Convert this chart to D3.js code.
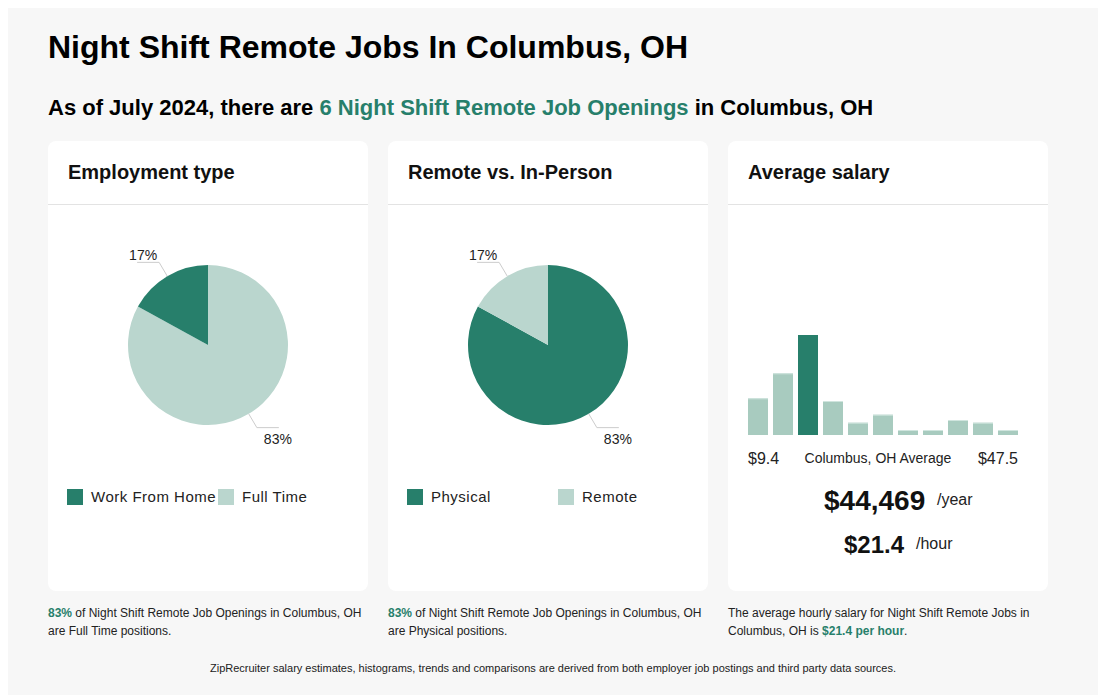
<!DOCTYPE html>
<html><head><meta charset="utf-8">
<script src="https://cdn.jsdelivr.net/npm/d3@7"></script>
<style>
html,body{margin:0;padding:0;background:#fff;}
svg{display:block;font-family:"Liberation Sans",Arial,sans-serif;}
</style></head>
<body><svg id="c" width="1110" height="695"></svg>
<script>
const title = "Night Shift Remote Jobs In Columbus, OH";
const employmentLabels = ["Full Time", "Work From Home"];
const employmentValues = [83, 17];
const remoteLabels = ["Physical", "Remote"];
const remoteValues = [83, 17];
const salaryBins = [36.7, 61.7, 100, 34, 12.3, 20.3, 5, 5, 15, 12.3, 5];
const highlightBin = 2;
const salaryMin = "$9.4", salaryMax = "$47.5";
const yearly = "$44,469", hourly = "$21.4";

const DARK = "#277f6b", LIGHT = "#bad6ce", BAR = "#a8cbbf";
const svg = d3.select("#c");
svg.append("rect").attr("x",8).attr("y",8).attr("width",1090).attr("height",687).attr("fill","#f7f7f7");
svg.append("text").attr("x",48).attr("y",58).attr("font-size",32).attr("font-weight","bold").attr("fill","#000").text(title);
const sub = svg.append("text").attr("x",48).attr("y",115).attr("font-size",22).attr("font-weight","bold").attr("fill","#000");
sub.append("tspan").text("As of July 2024, there are ");
sub.append("tspan").attr("fill",DARK).text("6 Night Shift Remote Job Openings");
sub.append("tspan").text(" in Columbus, OH");

const cards = [{x:48,t:"Employment type"},{x:388,t:"Remote vs. In-Person"},{x:728,t:"Average salary"}];
cards.forEach(c=>{
  const g = svg.append("g").attr("transform",`translate(${c.x},141)`);
  g.append("rect").attr("width",320).attr("height",450).attr("rx",8).attr("fill","#fff");
  g.append("text").attr("x",20).attr("y",38).attr("font-size",20).attr("font-weight","bold").attr("fill","#111").text(c.t);
  g.append("line").attr("x1",0).attr("x2",320).attr("y1",63.5).attr("y2",63.5).attr("stroke","#e3e3e3");
});

function drawPie(cx, labels, values, colors, legendX){
  const cy = 345, r = 80;
  const g = svg.append("g").attr("transform",`translate(${cx},${cy})`);
  const pie = d3.pie().sort(null).value(d=>d)(values);
  const arc = d3.arc().innerRadius(0).outerRadius(r);
  g.selectAll("path").data(pie).join("path").attr("d",arc).attr("fill",(d,i)=>colors[i]);
  pie.forEach((d,i)=>{
    const a = (d.startAngle+d.endAngle)/2;
    const p1 = [r*Math.sin(a), -r*Math.cos(a)];
    const p2 = [(r+16)*Math.sin(a), -(r+16)*Math.cos(a)];
    const right = Math.sin(a) > 0;
    const p3 = [p2[0] + (right?22:-22), p2[1]];
    g.append("polyline").attr("points",[p1,p2,p3].map(p=>p.join(",")).join(" "))
      .attr("fill","none").attr("stroke","#ccc").attr("stroke-width",1);
    g.append("text").attr("x", right ? p2[0]+7 : p2[0]-2).attr("y", right ? p2[1]+16 : p2[1]-2)
      .attr("text-anchor", right?"start":"end").attr("font-size",14).attr("fill","#222")
      .text(values[i]+"%");
  });
  const order = colors[0]===DARK ? [0,1] : [1,0];
  order.forEach((idx,k)=>{
    const lx = legendX[k];
    svg.append("rect").attr("x",lx).attr("y",489).attr("width",16).attr("height",16).attr("fill",colors[idx]);
    svg.append("text").attr("x",lx+24).attr("y",502).attr("font-size",15).attr("letter-spacing",0.5).attr("fill","#222").text(labels[idx]);
  });
}
drawPie(208, employmentLabels, employmentValues, [LIGHT, DARK], [67,218]);
drawPie(548, remoteLabels, remoteValues, [DARK, LIGHT], [407,558]);

// histogram
const x = d3.scaleBand().domain(d3.range(salaryBins.length)).range([748,1018]).paddingInner(0.2).paddingOuter(0);
const y = d3.scaleLinear().domain([0,100]).range([435,335]);
svg.append("g").selectAll("rect").data(salaryBins).join("rect")
  .attr("x",(d,i)=>x(i)).attr("width",x.bandwidth()).attr("y",d=>y(d)).attr("height",d=>435-y(d))
  .attr("fill",(d,i)=>i===highlightBin?DARK:BAR);
svg.append("g").selectAll("line").data(salaryBins).join("line")
  .attr("x1",(d,i)=>x(i)).attr("x2",(d,i)=>x(i)+x.bandwidth()).attr("y1",d=>y(d)+0.5).attr("y2",d=>y(d)+0.5)
  .attr("stroke",(d,i)=>i===highlightBin?DARK:"#d0e5de");
svg.append("text").attr("x",748).attr("y",464).attr("font-size",16).attr("fill","#222").text(salaryMin);
svg.append("text").attr("x",1018).attr("y",464).attr("font-size",16).attr("text-anchor","end").attr("fill","#222").text(salaryMax);
svg.append("text").attr("x",878).attr("y",463).attr("font-size",14).attr("text-anchor","middle").attr("fill","#222").text("Columbus, OH Average");
svg.append("text").attr("x",824).attr("y",510).attr("font-size",28).attr("font-weight","bold").attr("fill","#111").text(yearly);
svg.append("text").attr("x",937).attr("y",505).attr("font-size",16).attr("fill","#222").text("/year");
svg.append("text").attr("x",844).attr("y",553).attr("font-size",24).attr("font-weight","bold").attr("fill","#111").text(hourly);
svg.append("text").attr("x",916).attr("y",549).attr("font-size",16).attr("fill","#222").text("/hour");

// footnotes
function foot(xp, lines){
  lines.forEach((ln,i)=>{
    const t = svg.append("text").attr("x",xp).attr("y",617+i*18).attr("font-size",12).attr("fill","#222");
    ln.forEach(([s,b])=>t.append("tspan").attr("fill",b?DARK:"#222").attr("font-weight",b?"bold":null).text(s));
  });
}
foot(48, [[["83%",1],[" of Night Shift Remote Job Openings in Columbus, OH",0]],[["are Full Time positions.",0]]]);
foot(388, [[["83%",1],[" of Night Shift Remote Job Openings in Columbus, OH",0]],[["are Physical positions.",0]]]);
foot(728, [[["The average hourly salary for Night Shift Remote Jobs in",0]],[["Columbus, OH is ",0],["$21.4 per hour",1],[".",0]]]);
svg.append("text").attr("x",553).attr("y",672).attr("font-size",11).attr("text-anchor","middle").attr("fill","#222")
  .text("ZipRecruiter salary estimates, histograms, trends and comparisons are derived from both employer job postings and third party data sources.");
</script></body></html>
